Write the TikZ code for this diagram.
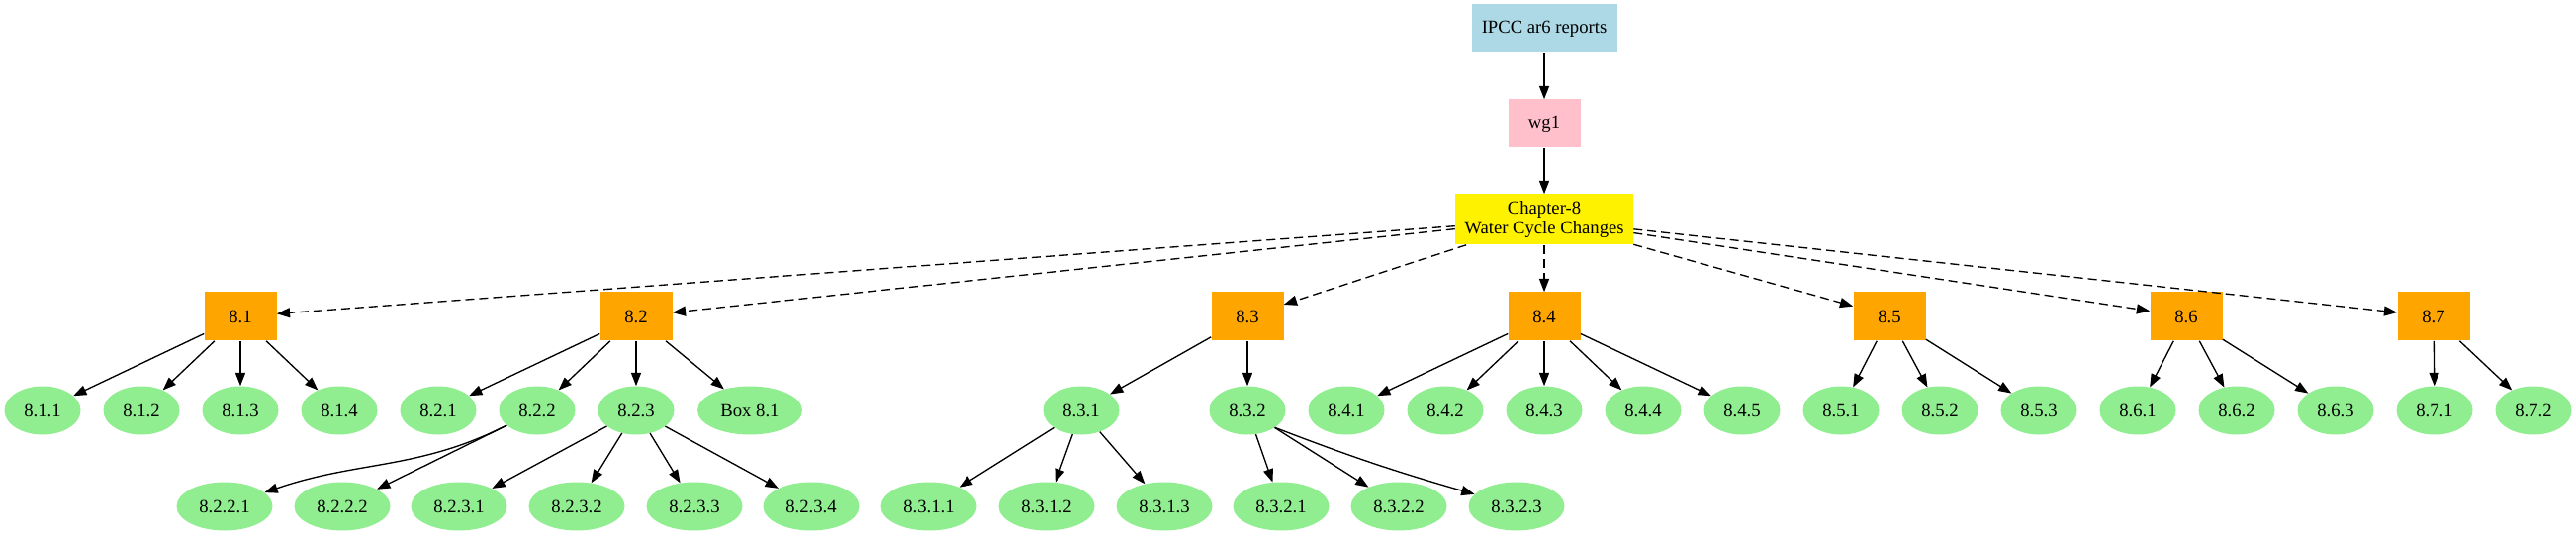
\documentclass[tikz,border=0pt]{standalone}
\usepackage{fontspec}
\setmainfont{Liberation Serif}
\usetikzlibrary{arrows.meta,shapes.geometric}

\definecolor{gvblue}{RGB}{173,216,230}
\definecolor{gvpink}{RGB}{255,192,203}
\definecolor{gvorange}{RGB}{255,165,0}
\definecolor{gvgreen}{RGB}{144,238,144}

\tikzset{
    gv text/.style={font=\fontsize{14}{15}\selectfont, inner sep=0pt},
    head box/.style={
        gv text, rectangle, fill=#1,
        minimum width=54.75pt, minimum height=36.75pt
    },
    section box/.style={head box=gvorange},
    sub ellipse/.style={
        gv text, ellipse, fill=gvgreen,
        minimum width=57.75pt, minimum height=36.75pt
    },
    wide ellipse/.style={sub ellipse, minimum width=72.75pt},
    tree edge/.style={-{Triangle[length=10pt,width=7.5pt]}, line width=1pt},
    dash edge/.style={tree edge, dash pattern=on 6.75pt off 3.75pt}
}

\begin{document}
\begin{tikzpicture}[x=0.75pt,y=-0.75pt]
        \useasboundingbox (0,0) rectangle (2604,541);
        % top of the tree
        \node[head box=gvblue, minimum width=110.25pt] (ipcc) at (1561,29) {IPCC ar6 reports};
        \node[head box=gvpink] (wg1) at (1561,125) {wg1};
        \node[head box=yellow, minimum width=135pt, minimum height=38.25pt, align=center] (chap) at (1561,222) {Chapter-8\\Water Cycle Changes};
        \draw[tree edge] (ipcc) -- (wg1);
        \draw[tree edge] (wg1) -- (chap);
        % sections
        \foreach \x/\name/\txt in {243/s81/8.1,643/s82/8.2,1261/s83/8.3,1561/s84/8.4,1910/s85/8.5,2210/s86/8.6,2460/s87/8.7}
            \node[section box] (\name) at (\x,320) {\txt};
        % subsections
        \foreach \x/\name/\txt in {43/s811/8.1.1,143/s812/8.1.2,243/s813/8.1.3,343/s814/8.1.4,
            443/s821/8.2.1,543/s822/8.2.2,643/s823/8.2.3,
            1093/s831/8.3.1,1261/s832/8.3.2,
            1361/s841/8.4.1,1461/s842/8.4.2,1561/s843/8.4.3,1661/s844/8.4.4,1761/s845/8.4.5,
            1861/s851/8.5.1,1961/s852/8.5.2,2061/s853/8.5.3,
            2161/s861/8.6.1,2261/s862/8.6.2,2361/s863/8.6.3,
            2461/s871/8.7.1,2561/s872/8.7.2}
            \node[sub ellipse] (\name) at (\x,415) {\txt};
        \node[sub ellipse, minimum width=79.5pt] (box81) at (758,415) {Box 8.1};
        % third level
        \foreach \x/\name/\txt in {227/s8221/8.2.2.1,346/s8222/8.2.2.2,
            464/s8231/8.2.3.1,583/s8232/8.2.3.2,702/s8233/8.2.3.3,820/s8234/8.2.3.4,
            939/s8311/8.3.1.1,1058/s8312/8.3.1.2,1177/s8313/8.3.1.3,
            1295/s8321/8.3.2.1,1414/s8322/8.3.2.2,1533/s8323/8.3.2.3}
            \node[wide ellipse] (\name) at (\x,512) {\txt};
        % chapter to sections
        \foreach \s in {s81,s82,s83,s84,s85,s86,s87}
            \draw[dash edge] (chap) -- (\s);
        % sections to subsections
        \foreach \a/\b in {s81/s811,s81/s812,s81/s813,s81/s814,
            s82/s821,s82/s822,s82/s823,s82/box81,
            s83/s831,s83/s832,
            s84/s841,s84/s842,s84/s843,s84/s844,s84/s845,
            s85/s851,s85/s852,s85/s853,
            s86/s861,s86/s862,s86/s863,
            s87/s871,s87/s872,
            s822/s8222,s823/s8231,s823/s8232,s823/s8233,s823/s8234,
            s831/s8311,s831/s8312,s831/s8313,
            s832/s8321,s832/s8322}
            \draw[tree edge] (\a) -- (\b);
        \draw[tree edge] (s822.206) to[out=207,in=19] (s8221);
        \draw[tree edge] (s832.-32) to[out=-21,in=164] (s8323);
    \end{tikzpicture}
\end{document}
